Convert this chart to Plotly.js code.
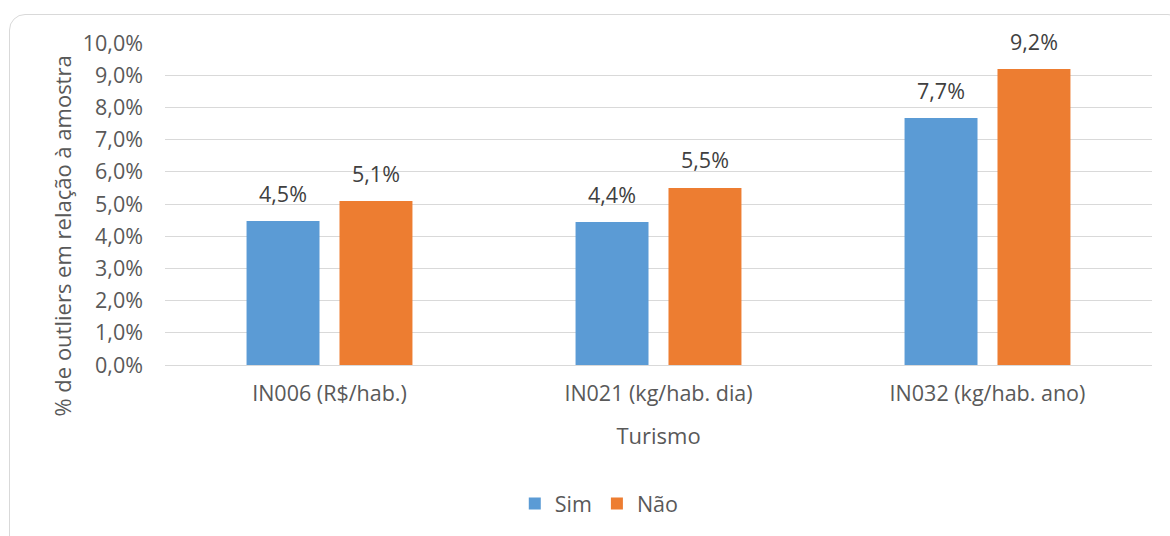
<!DOCTYPE html>
<html><head><meta charset="utf-8">
<script src="https://cdn.plot.ly/plotly-3.0.1.min.js"></script>
<style>
html,body{margin:0;padding:0;background:#fff;}
#frame{position:absolute;left:9px;top:14px;width:1175px;height:540px;border:1px solid #d9d9d9;border-radius:16px;box-sizing:border-box;}
#chart{position:absolute;left:0;top:0;width:1170px;height:536px;}
</style></head>
<body>
<div id="frame"></div>
<div id="chart"></div>
<script>
const categories = ["IN006 (R$/hab.)", "IN021 (kg/hab. dia)", "IN032 (kg/hab. ano)"];
const seriesNames = ["Sim", "Não"];
const simValues = [4.47, 4.44, 7.67];
const naoValues = [5.09, 5.50, 9.19];
const tickValues = [0,1,2,3,4,5,6,7,8,9,10];
const xTitle = "Turismo";
const yTitle = "% de outliers em relação à amostra";
const colors = ["#5b9bd5", "#ed7d31"];

const FONT = "'Open Sans', Lato, sans-serif";
const FS = 21.5;
const fmt = v => v.toFixed(1).replace('.', ',') + '%';

const traces = [simValues, naoValues].map((vals, i) => ({
  type: 'bar', name: seriesNames[i], x: categories, y: vals,
  marker: {color: colors[i]}, hoverinfo: 'none'
}));

const annotations = [];
[simValues, naoValues].forEach((vals, i) => {
  vals.forEach((v, j) => {
    annotations.push({
      x: categories[j], y: v, xref: 'x', yref: 'y',
      text: fmt(v), showarrow: false,
      xshift: i === 0 ? -46.5 : 46.5, yshift: 28,
      yanchor: 'middle', xanchor: 'center',
      font: {family: FONT, size: FS, color: '#404040'}
    });
  });
});
annotations.push({
  xref: 'paper', yref: 'paper', x: -0.104, y: 0.40,
  text: yTitle, textangle: -90, showarrow: false,
  xanchor: 'center', yanchor: 'middle',
  font: {family: FONT, size: 22, color: '#595959'}
});

const layout = {
  width: 1170, height: 536,
  margin: {l: 165, r: 18, t: 43, b: 171},
  paper_bgcolor: 'rgba(0,0,0,0)', plot_bgcolor: 'rgba(0,0,0,0)',
  separators: ',.',
  barmode: 'group', bargap: 0.435, bargroupgap: 0.215,
  font: {family: FONT, size: FS, color: '#595959'},
  xaxis: {
    type: 'category', showgrid: false, zeroline: false,
    showline: true, linecolor: '#d9d9d9', linewidth: 1,
    ticks: '', ticklen: 0, ticklabelstandoff: 9,
    tickfont: {family: FONT, size: FS, color: '#595959'},
    title: {text: xTitle, font: {family: FONT, size: 22, color: '#595959'}, standoff: 22}
  },
  yaxis: {
    range: [0, 10], tickvals: tickValues,
    ticktext: tickValues.map(v => v.toFixed(1).replace('.', ',') + '%'),
    showgrid: true, gridcolor: '#d9d9d9', gridwidth: 1,
    zeroline: false, showline: false, ticks: '', ticklabelstandoff: 21,
    tickfont: {family: FONT, size: FS, color: '#595959'}
  },
  showlegend: true,
  legend: {
    orientation: 'h', x: 0.44, xanchor: 'center', y: -0.43, yanchor: 'middle',
    font: {family: FONT, size: FS, color: '#595959'},
    itemwidth: 30, traceorder: 'normal'
  },
  annotations: annotations
};

Plotly.newPlot('chart', traces, layout, {displayModeBar: false, staticPlot: true});
</script>
</body></html>
